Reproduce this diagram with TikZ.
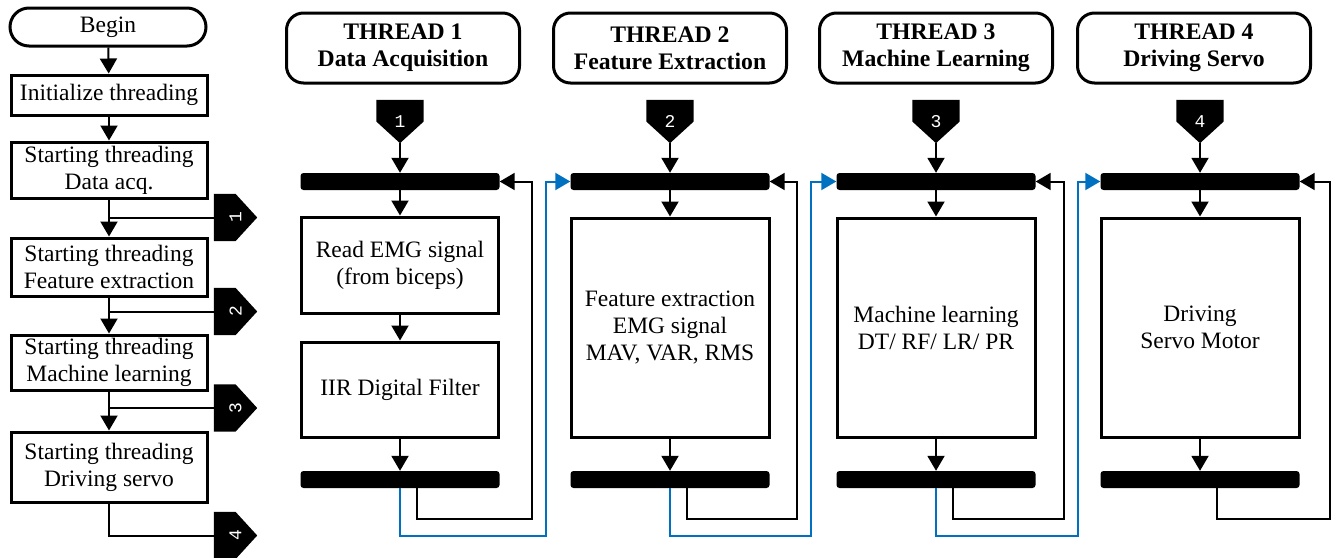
\documentclass[tikz,border=0pt]{standalone}
\usepackage{fontspec}
\setmainfont{Liberation Serif}
\newfontfamily\numfont{Liberation Mono}
\usepackage{tikz}
\usetikzlibrary{positioning}
\usetikzlibrary{backgrounds,arrows.meta}
\definecolor{loopblue}{RGB}{0,112,192}
\tikzset{flow/.style = {->, > = {Triangle[length=15pt,width=17pt]}, line width=2pt}}
\newcommand{\pagetag}[1]{\fill (#1.north west) -- (#1.north east) -- (#1.east) -- (#1.south) -- (#1.west) -- cycle;}

\begin{document}
\begin{tikzpicture}[x=1pt,y=-1pt,
    procbox/.style={draw,line width=3pt,align=center,inner sep=0pt,font=\fontsize{23.5}{27}\selectfont},
    headbox/.style={draw,line width=3pt,rounded corners=17pt,align=center,minimum width=233pt,minimum height=70pt,inner sep=0pt,font=\bfseries\fontsize{23.7}{27}\selectfont},
    syncbar/.style={fill=black,rounded corners=3pt,minimum width=199pt,minimum height=17pt,inner sep=0pt},
    pageref/.style={rectangle,minimum width=47pt,minimum height=43pt,inner sep=0pt,text=white,font=\numfont\fontsize{18}{18}\selectfont},
    wire/.style={line width=2pt}]
    \useasboundingbox (0,0) rectangle (1337,557);

    % main program
    \node[procbox,rounded corners=19pt,minimum width=196pt,minimum height=38pt] (begin) at (108,27) {Begin};
    \node[procbox,minimum width=196pt,minimum height=40pt] (init) at (109,95) {Initialize threading};
    \node[procbox,minimum width=196pt,minimum height=56pt] (sdata) at (109,170) {Starting threading\\Data acq.};
    \node[procbox,minimum width=196pt,minimum height=58pt] (sfeat) at (109,267) {Starting threading\\Feature extraction};
    \node[procbox,minimum width=196pt,minimum height=55pt] (slearn) at (109,362.5) {Starting threading\\Machine learning};
    \node[procbox,minimum width=196pt,minimum height=70pt] (sservo) at (109,467) {Starting threading\\Driving servo};

    \node[pageref,rotate=90] (p1) at (235.5,217.5) {1};
    \node[pageref,rotate=90] (p2) at (235.5,311.5) {2};
    \node[pageref,rotate=90] (p3) at (235.5,408) {3};
    \node[pageref,rotate=90] (p4) at (235.5,535.5) {4};

    \draw[flow] (begin) -- (init);
    \draw[flow] (init) -- (sdata);
    \draw[flow] (sdata) -- (sfeat);
    \draw[flow] (sfeat) -- (slearn);
    \draw[flow] (slearn) -- (sservo);
    \draw[wire] (sdata.south |- p1) -- (p1);
    \draw[wire] (sfeat.south |- p2) -- (p2);
    \draw[wire] (slearn.south |- p3) -- (p3);
    \draw[wire] (sservo.south) |- (p4);

    % threads
    \node[headbox] (h1) at (403,48) {THREAD 1\\Data Acquisition};
    \node[headbox] (h2) at (670,48) {THREAD 2\\Feature Extraction};
    \node[headbox] (h3) at (936,48) {THREAD 3\\Machine Learning};
    \node[headbox] (h4) at (1194,48) {THREAD 4\\Driving Servo};

    \node[pageref] (k1) at (400,121.5) {1};
    \node[pageref] (k2) at (670,121.5) {2};
    \node[pageref] (k3) at (936,121.5) {3};
    \node[pageref] (k4) at (1200,121.5) {4};

    \node[syncbar] (t1) at (400,181.5) {};
    \node[syncbar] (t2) at (670,181.5) {};
    \node[syncbar] (t3) at (936,181.5) {};
    \node[syncbar] (t4) at (1200,181.5) {};

    \node[procbox,minimum width=197pt,minimum height=96pt] (read) at (400,265) {Read EMG signal\\(from biceps)};
    \node[procbox,minimum width=197pt,minimum height=95pt] (filt) at (400,389.5) {IIR Digital Filter};
    \node[procbox,minimum width=198pt,minimum height=219pt] (feat) at (670,327.5) {Feature extraction\\EMG signal\\MAV, VAR, RMS};
    \node[procbox,minimum width=198pt,minimum height=219pt] (learn) at (936,327.5) {Machine learning\\DT/ RF/ LR/ PR};
    \node[procbox,minimum width=198pt,minimum height=219pt] (servo) at (1200,327.5) {Driving\\Servo Motor};

    \node[syncbar] (b1) at (400,479.5) {};
    \node[syncbar] (b2) at (670,479.5) {};
    \node[syncbar] (b3) at (936,479.5) {};
    \node[syncbar] (b4) at (1200,479.5) {};

    % off-page tags behind their numbers
    \begin{scope}[on background layer]
        \pagetag{p1} \pagetag{p2} \pagetag{p3} \pagetag{p4}
        \pagetag{k1} \pagetag{k2} \pagetag{k3} \pagetag{k4}
    \end{scope}

    \coordinate (r1) at (532,519);
    \coordinate (r2) at (797,519);
    \coordinate (r3) at (1064,519);
    \coordinate (r4) at (1330,519);
    \coordinate (n1) at (546,536);
    \coordinate (n2) at (811,536);
    \coordinate (n3) at (1078,536);

    \draw[flow] (k1) -- (t1);
    \draw[flow] (k2) -- (t2);
    \draw[flow] (k3) -- (t3);
    \draw[flow] (k4) -- (t4);

    \draw[flow] (t1) -- (read);
    \draw[flow] (read) -- (filt);
    \draw[flow] (filt) -- (b1);
    \draw[flow] (t2) -- (feat);
    \draw[flow] (feat) -- (b2);
    \draw[flow] (t3) -- (learn);
    \draw[flow] (learn) -- (b3);
    \draw[flow] (t4) -- (servo);
    \draw[flow] (servo) -- (b4);

    % loop back
    \draw[flow] ([xshift=17pt]b1.south) |- (r1) |- (t1.east);
    \draw[flow] ([xshift=17pt]b2.south) |- (r2) |- (t2.east);
    \draw[flow] ([xshift=17pt]b3.south) |- (r3) |- (t3.east);
    \draw[flow] ([xshift=17pt]b4.south) |- (r4) |- (t4.east);

    % hand over to next thread
    \draw[flow,loopblue] (b1.south) |- (n1) |- (t2.west);
    \draw[flow,loopblue] (b2.south) |- (n2) |- (t3.west);
    \draw[flow,loopblue] (b3.south) |- (n3) |- (t4.west);
\end{tikzpicture}
\end{document}
